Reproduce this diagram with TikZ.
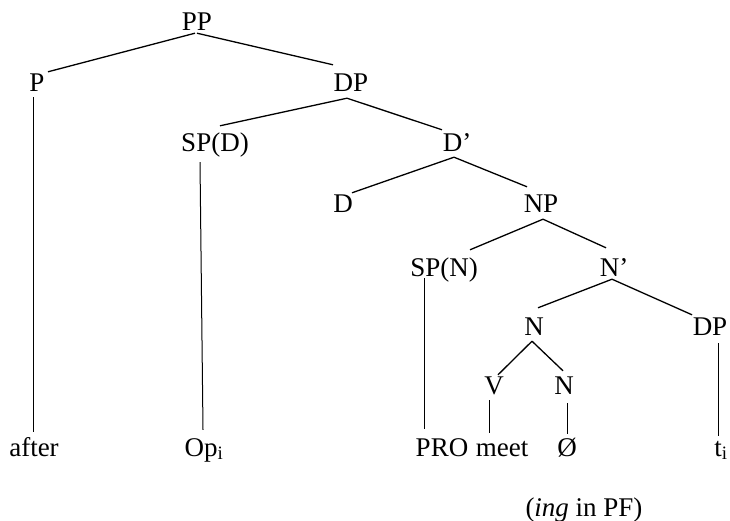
\documentclass[tikz,border=0pt]{standalone}
\usepackage{fontspec}
\setmainfont{Liberation Serif}
\begin{document}
\begin{tikzpicture}[x=1pt,y=-1pt,
  lbl/.style={anchor=base,inner sep=0pt,text height=18pt,text depth=0pt,
    font=\fontsize{27}{30}\selectfont},
  edge/.style={line width=1.3pt,black},
  vedge/.style={line width=1.0pt,black}]
\useasboundingbox[fill=white] (0,0) rectangle (730,521);
% labels
\node[lbl] (PP) at (197,31) {PP};
\node[lbl] (P) at (37,92) {P};
\node[lbl] (DPa) at (351,92) {DP};
\node[lbl] (SPD) at (215,152) {SP(D)};
\node[lbl] (Dbar) at (457,152) {D’};
\node[lbl] (D) at (343,213) {D};
\node[lbl] (NP) at (541,213) {NP};
\node[lbl] (SPN) at (444,276) {SP(N)};
\node[lbl] (Nbar) at (614,276) {N’};
\node[lbl] (N) at (534,335) {N};
\node[lbl] (DPb) at (710,335) {DP};
\node[lbl] (V) at (494,394) {V};
\node[lbl] (Nb) at (564,394) {N};
\node[lbl] (after) at (34,456) {after};
\node[lbl] (Op) at (204,456) {Op\textsubscript{i}};
\node[lbl] (PRO) at (442,456) {PRO};
\node[lbl] (meet) at (502,456) {meet};
\node[lbl] (zero) at (567,456) {Ø};
\node[lbl] (ti) at (721,456) {t\textsubscript{i}};
\node[lbl] (ing) at (584,516) {(\textit{ing} in PF)};
% connectors
\draw[edge] ([shift={(-2,2)}]PP.south) -- ([shift={(11,-2)}]P.north);
\draw[edge] ([shift={(0,2)}]PP.south) -- ([shift={(-18,-9)}]DPa.north);
\draw[edge] ([shift={(-4,6)}]DPa.south) -- ([shift={(5,-8)}]SPD.north);
\draw[edge] ([shift={(-4,6)}]DPa.south) -- ([shift={(-15,-4)}]Dbar.north);
\draw[edge] ([shift={(-3,5)}]Dbar.south) -- ([shift={(9,-2)}]D.north);
\draw[edge] ([shift={(-3,5)}]Dbar.south) -- ([shift={(-14,-8)}]NP.north);
\draw[edge] ([shift={(2,6)}]NP.south) -- ([shift={(26,-8)}]SPN.north);
\draw[edge] ([shift={(2,6)}]NP.south) -- ([shift={(-8,-10)}]Nbar.north);
\draw[edge] ([shift={(-2,3)}]Nbar.south) -- ([shift={(4,-9)}]N.north);
\draw[edge] ([shift={(-2,3)}]Nbar.south) -- ([shift={(-18,-2)}]DPb.north);
\draw[edge] ([shift={(-2,6)}]N.south) -- ([shift={(4,-1)}]V.north);
\draw[edge] ([shift={(-2,6)}]N.south) -- ([shift={(-1,-5)}]Nb.north);
\draw[vedge] ([shift={(-4,5)}]P.south) -- ([shift={(-1,-6)}]after.north);
\draw[vedge] ([shift={(-15,10)}]SPD.south) -- ([shift={(-1,-8)}]Op.north);
\draw[vedge] ([shift={(-20,2)}]SPN.south) -- ([shift={(-18,-9)}]PRO.north);
\draw[vedge] ([shift={(-5,6)}]V.south) -- ([shift={(-13,-5)}]meet.north);
\draw[vedge] ([shift={(3,9)}]Nb.south) -- ([shift={(0,-4)}]zero.north);
\draw[vedge] ([shift={(8,8)}]DPb.south) -- ([shift={(-3,-2)}]ti.north);
\end{tikzpicture}
\end{document}
